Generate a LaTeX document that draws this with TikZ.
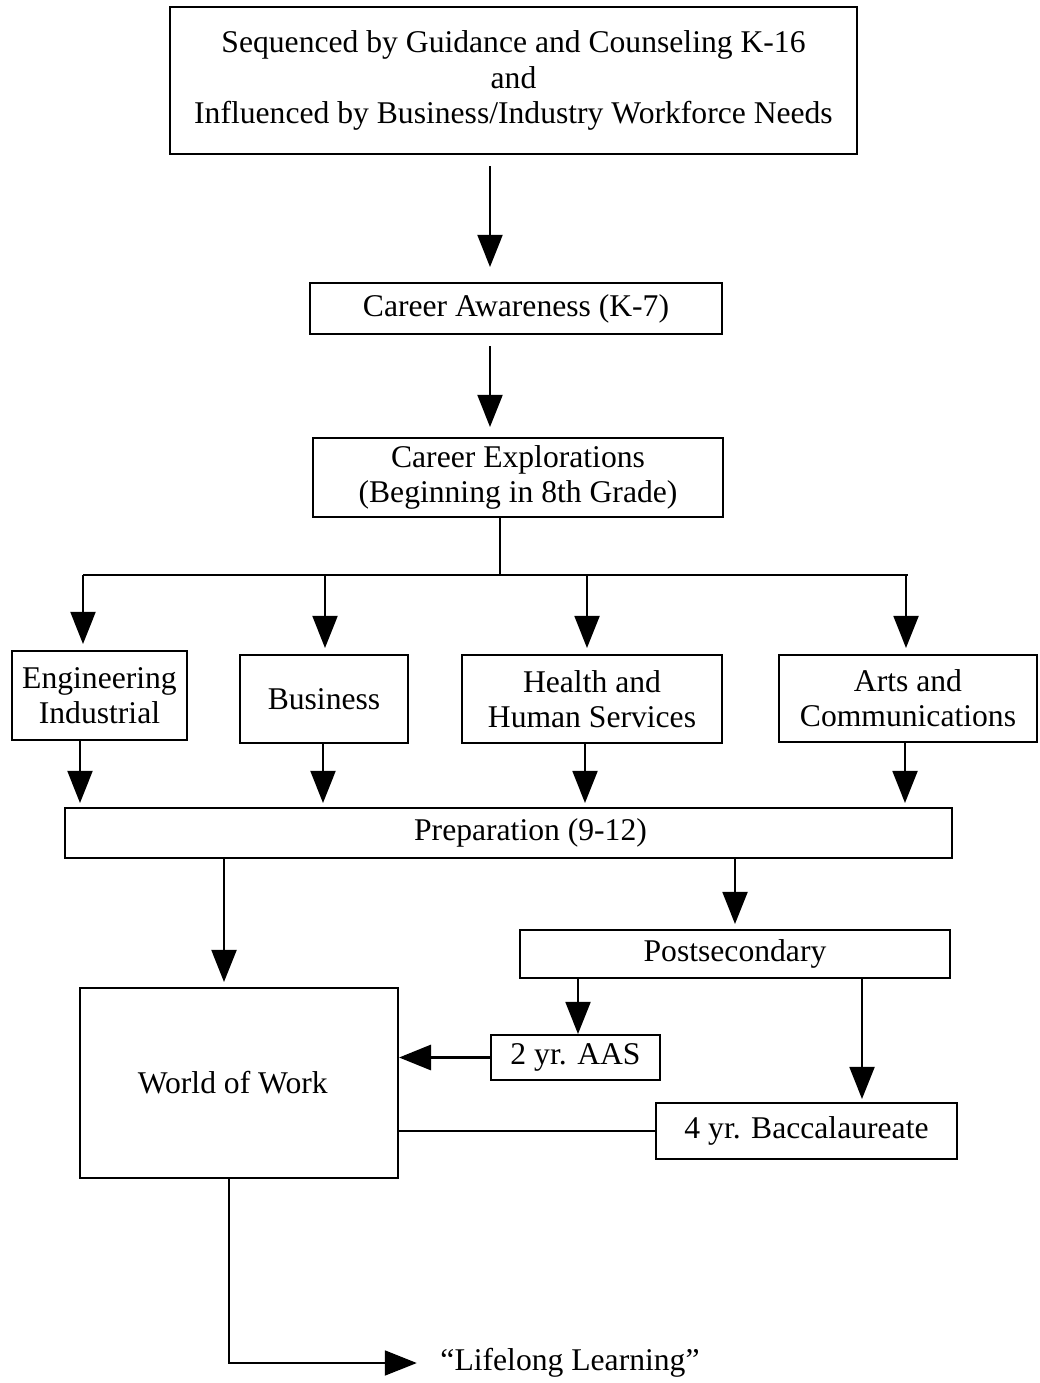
\documentclass[tikz,border=0pt]{standalone}
\usepackage{fontspec}
\setmainfont{Liberation Serif}
\usetikzlibrary{arrows.meta,positioning}

\begin{document}
\begin{tikzpicture}[x=0.02cm,y=-0.02cm,>={Triangle[length=0.64cm,width=0.5cm]},
            box/.style={draw,rectangle,line width=1.2pt,align=center,inner sep=0pt,
                font=\fontsize{18}{20}\selectfont},
            arrow/.style={->,line width=1.1pt}]
            \useasboundingbox (0,0) rectangle (1039,1383);

            % Define the boxes
            \node[box,minimum width=13.74cm,minimum height=2.94cm] (top) at (513.5,80.5)
                {Sequenced by Guidance and Counseling K-16\\and\\Influenced by Business/Industry Workforce Needs};
            \node[box,minimum width=8.24cm,minimum height=1.02cm] (ca) at (516,308.5) {Career Awareness (K-7)};
            \node[box,minimum width=8.2cm,minimum height=1.58cm] (ce) at (518,477.5)
                {Career Explorations\\(Beginning in 8th Grade)};
            \node[box,minimum width=3.5cm,minimum height=1.78cm] (eng) at (99.5,695.5) {Engineering\\Industrial};
            \node[box,minimum width=3.36cm,minimum height=1.76cm] (bus) at (324,699) {Business};
            \node[box,minimum width=5.2cm,minimum height=1.76cm] (hea) at (592,699) {Health and\\Human Services};
            \node[box,minimum width=5.16cm,minimum height=1.74cm] (art) at (908,698.5) {Arts and\\Communications};
            \node[box,minimum width=17.74cm,minimum height=1.0cm] (prep) at (508.5,833)
                {\hspace*{0.88cm}Preparation (9-12)};
            \node[box,minimum width=8.6cm,minimum height=0.96cm] (post) at (735,954) {Postsecondary};
            \node[box,minimum width=3.38cm,minimum height=0.9cm] (aas) at (575.5,1057.5) {2 yr. AAS};
            \node[box,minimum width=6.02cm,minimum height=1.12cm] (bac) at (806.5,1131) {4 yr. Baccalaureate};
            \node[box,minimum width=6.36cm,minimum height=3.8cm] (wow) at (239,1083)
                {World of Work\hspace*{0.25cm}};
            \node[font=\fontsize{18}{20}\selectfont] (life) at (570,1363) {``Lifelong Learning''};

            \coordinate (split) at (500,575);

            % Connect the boxes with arrows
            \draw[arrow,shorten <=0.22cm,shorten >=0.3cm] (top.south -| 490,0) -- (ca.north -| 490,0);
            \draw[arrow,shorten <=0.22cm,shorten >=0.2cm] (ca.south -| 490,0) -- (ce.north -| 490,0);
            \draw[line width=1.1pt] (ce.south -| split) -- (split);
            \draw[line width=1.1pt] (83,575) -- (908,575);
            \foreach \x/\n in {83/eng,325/bus,587/hea,906/art}
                \draw[arrow,shorten >=0.12cm] (\x,575) -- (\n.north -| \x,0);
            \foreach \x/\n in {80/eng,323/bus,585/hea,905/art}
                \draw[arrow,shorten >=0.08cm] (\n.south -| \x,0) -- (prep.north -| \x,0);

            \draw[arrow,shorten >=0.1cm] (prep.south -| 224,0) -- (wow.north -| 224,0);
            \draw[arrow,shorten >=0.1cm] (prep.south -| 735,0) -- (post.north -| 735,0);
            \draw[arrow] (post.south -| 578,0) -- (aas.north -| 578,0);
            \draw[arrow,line width=1.8pt] (aas.west) -- (aas.west -| wow.east);
            \draw[arrow,shorten >=0.06cm] (post.south -| 862,0) -- (bac.north -| 862,0);
            \draw[line width=1.1pt] (bac.west) -- (bac.west -| wow.east);
            \draw[arrow,shorten >=0.35cm] (wow.south -| 229,0) |- (life.west);
\end{tikzpicture}
\end{document}
